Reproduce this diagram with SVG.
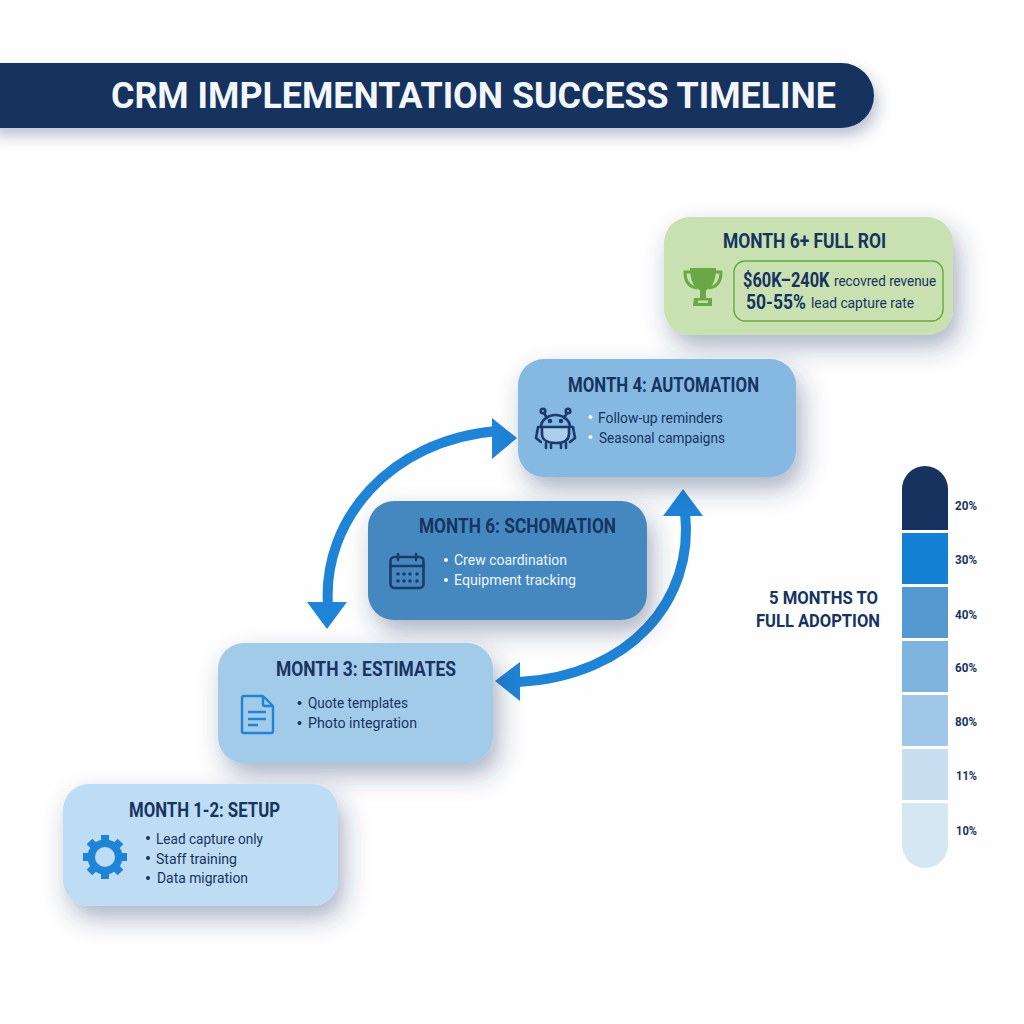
<svg xmlns="http://www.w3.org/2000/svg" width="1024" height="1024" viewBox="0 0 1024 1024">
<defs>
<filter id="sh" x="-20%" y="-25%" width="150%" height="170%"><feDropShadow dx="6" dy="12" stdDeviation="12" flood-color="#27376b" flood-opacity="0.38"/></filter>
<filter id="shb" x="-5%" y="-20%" width="110%" height="170%"><feDropShadow dx="4" dy="8" stdDeviation="7" flood-color="#27376b" flood-opacity="0.3"/></filter>
</defs>
<style>
text{font-family:Roboto,"Liberation Sans",sans-serif;fill:#18335f}
.h{font-size:20px;font-weight:700}
.b{font-size:15px}
.w{fill:#eef5fb}
.s{font-size:12px;font-weight:700}
.ad{font-size:19px;font-weight:700}
.conn{fill:none;stroke:#1f84d6;stroke-width:10}
.arr{fill:#1f84d6}
.ic{fill:none;stroke:#1c3a6b;stroke-width:2.6;stroke-linejoin:round;stroke-linecap:round}
</style>
<rect width="1024" height="1024" fill="#fefefe"/>
<g id="title">
<path d="M-10 63H841.500a32.500 32.500 0 0 1 0 65H-10Z" fill="#17325f" filter="url(#shb)"/>
<text x="111" y="108" font-size="37" font-weight="700" textLength="725" lengthAdjust="spacingAndGlyphs" style="fill:#f4f7fa">CRM IMPLEMENTATION SUCCESS TIMELINE</text>
</g>
<g id="connectors">
<path class="conn" d="M328 606C322 520 390 440 497 431"/>
<polygon class="arr" points="307,602 347,602 327,629"/>
<polygon class="arr" points="492,418 517,438 492,459"/>
<path class="conn" d="M685 512C695 600 630 676 519 682"/>
<polygon class="arr" points="663,516 703,516 683,489"/>
<polygon class="arr" points="520,662 520,701 495,681"/>
</g>
<g id="node-roi">
<rect x="664" y="217" width="289" height="118" rx="26" fill="#c9e0b1" filter="url(#sh)"/>
<text class="h" x="723" y="248" textLength="163" lengthAdjust="spacingAndGlyphs">MONTH 6+ FULL ROI</text>
<rect x="734" y="261" width="209" height="60" rx="11" fill="none" stroke="#69a845" stroke-width="1.400"/>
<g fill="none" stroke="#69a845" stroke-width="3"><path d="M691 272H685C685 282 690 287 697 288M715 272H721C721 282 716 287 709 288"/></g>
<path d="M690 268H716C716 282 711 290 703 291C695 290 690 282 690 268Z" fill="#69a845"/>
<rect x="700" y="290" width="6" height="9" fill="#69a845"/>
<path d="M694 298H712V306H693ZM698 300.500V303H708V300.500Z" fill="#69a845" fill-rule="evenodd"/>
<text transform="translate(743 287) scale(.82 1)" font-size="20" font-weight="700">$60K–240K</text>
<text transform="translate(834 286) scale(.897 1)" font-size="15">recovred revenue</text>
<text x="746" y="309" font-size="20" font-weight="700" textLength="60" lengthAdjust="spacingAndGlyphs">50-55%</text>
<text x="811" y="308" font-size="15" textLength="103" lengthAdjust="spacingAndGlyphs">lead capture rate</text>
</g>
<g id="node-automation">
<rect x="518" y="359" width="278" height="118" rx="26" fill="#85b9e1" filter="url(#sh)"/>
<text class="h" x="568" y="392" textLength="191" lengthAdjust="spacingAndGlyphs">MONTH 4: AUTOMATION</text>
<path d="M542 427V434C542 440 548 443 556 443C564 443 569 440 569 434V427Z" fill="#a9cfeb"/>
<g class="ic"><circle cx="543" cy="411" r="2.300"/><circle cx="568" cy="411" r="2.300"/><path d="M544 413L547 418M567 413L564 418"/><path d="M541 427C541 420 548 415 555.500 415C563 415 570 420 570 427"/><path d="M538 427H573M538 427L536 438L541 442M573 427L575 438L570 442"/><path d="M542 427V434C542 440 548 443 556 443C564 443 569 440 569 434V427M546 443V448M551 443V448M561 443V448M566 443V448"/></g>
<circle cx="550" cy="421" r="2.300" fill="#1c3a6b"/><circle cx="561" cy="421" r="2.300" fill="#1c3a6b"/>
<circle cx="590.500" cy="417" r="2" fill="#f2f7fb"/><circle cx="590.500" cy="437" r="2" fill="#f2f7fb"/>
<text class="b" x="598" y="423" textLength="125" lengthAdjust="spacingAndGlyphs">Follow-up reminders</text>
<text class="b" x="599" y="443" textLength="126" lengthAdjust="spacingAndGlyphs">Seasonal campaigns</text>
</g>
<g id="node-scheduling">
<rect x="368" y="501" width="279" height="119" rx="26" fill="#4588c0" filter="url(#sh)"/>
<text class="h" x="419" y="533" textLength="197" lengthAdjust="spacingAndGlyphs">MONTH 6: SCHOMATION</text>
<g class="ic"><rect x="390.500" y="557" width="33" height="31" rx="4"/><path d="M390.500 566H423.500M398 554V560M416 554V560"/></g>
<g fill="#1c3a6b"><circle cx="398" cy="574" r="1.800"/><circle cx="404" cy="574" r="1.800"/><circle cx="410" cy="574" r="1.800"/><circle cx="417" cy="574" r="1.800"/><circle cx="398" cy="581" r="1.800"/><circle cx="404" cy="581" r="1.800"/><circle cx="410" cy="581" r="1.800"/><circle cx="417" cy="581" r="1.800"/></g>
<circle cx="446" cy="560" r="2" fill="#f2f7fb"/><circle cx="446" cy="580" r="2" fill="#f2f7fb"/>
<text class="b w" x="454" y="565" textLength="113" lengthAdjust="spacingAndGlyphs">Crew coardination</text>
<text class="b w" x="454" y="585" textLength="122" lengthAdjust="spacingAndGlyphs">Equipment tracking</text>
</g>
<g id="node-estimates">
<rect x="218" y="643" width="275" height="120" rx="26" fill="#a2cbea" filter="url(#sh)"/>
<text class="h" x="276" y="676" textLength="180" lengthAdjust="spacingAndGlyphs">MONTH 3: ESTIMATES</text>
<path d="M244 696H263L273 706V731Q273 733 271 733H244Q242 733 242 731V698Q242 696 244 696ZM263 696V704Q263 706 265 706H273M248 712H266M248 719H266M248 725H258" fill="none" stroke="#1f84d6" stroke-width="2.400" stroke-linejoin="round"/>
<circle cx="299.500" cy="703" r="2" fill="#18335f"/><circle cx="299.500" cy="723" r="2" fill="#18335f"/>
<text class="b" x="308" y="708" textLength="100" lengthAdjust="spacingAndGlyphs">Quote templates</text>
<text class="b" x="308" y="728" textLength="109" lengthAdjust="spacingAndGlyphs">Photo integration</text>
</g>
<g id="node-setup">
<rect x="63" y="784" width="275" height="122" rx="26" fill="#bedcf3" filter="url(#sh)"/>
<text class="h" x="129" y="817" textLength="151" lengthAdjust="spacingAndGlyphs">MONTH 1-2: SETUP</text>
<g stroke="#1f84d6" stroke-width="8"><path d="M105 835V879M83 857H127M89.500 841.500L120.500 872.500M89.500 872.500L120.500 841.500"/></g>
<circle cx="105" cy="857" r="17.500" fill="#1f84d6"/>
<circle cx="105" cy="857" r="10" fill="#bedcf3"/>
<circle cx="148" cy="838" r="2" fill="#18335f"/><circle cx="148" cy="858" r="2" fill="#18335f"/><circle cx="148" cy="878" r="2" fill="#18335f"/>
<text class="b" x="156" y="844" textLength="107" lengthAdjust="spacingAndGlyphs">Lead capture only</text>
<text class="b" x="156" y="864" textLength="81" lengthAdjust="spacingAndGlyphs">Staff training</text>
<text class="b" x="157" y="883" textLength="91" lengthAdjust="spacingAndGlyphs">Data migration</text>
</g>
<g id="adoption-scale">
<text class="ad" x="769" y="604" textLength="109" lengthAdjust="spacingAndGlyphs">5 MONTHS TO</text>
<text class="ad" x="756" y="627" textLength="124" lengthAdjust="spacingAndGlyphs">FULL ADOPTION</text>
<path d="M902 530V489a23 23 0 0 1 46 0V530Z" fill="#17325f"/>
<rect x="902" y="533" width="46" height="51" fill="#1480d4"/>
<rect x="902" y="587" width="46" height="51" fill="#5499cf"/>
<rect x="902" y="641" width="46" height="51" fill="#7fb4de"/>
<rect x="902" y="695" width="46" height="51" fill="#a0c7e7"/>
<rect x="902" y="749" width="46" height="51" fill="#c9dff1"/>
<path d="M902 803H948V845a23 23 0 0 1-46 0Z" fill="#d6e7f4"/>
<text class="s" x="955" y="510" textLength="22" lengthAdjust="spacingAndGlyphs">20%</text>
<text class="s" x="955" y="564" textLength="22" lengthAdjust="spacingAndGlyphs">30%</text>
<text class="s" x="955" y="619" textLength="22" lengthAdjust="spacingAndGlyphs">40%</text>
<text class="s" x="955" y="672" textLength="22" lengthAdjust="spacingAndGlyphs">60%</text>
<text class="s" x="955" y="726" textLength="22" lengthAdjust="spacingAndGlyphs">80%</text>
<text class="s" x="956" y="780" textLength="21" lengthAdjust="spacingAndGlyphs">11%</text>
<text class="s" x="956" y="835" textLength="21" lengthAdjust="spacingAndGlyphs">10%</text>
</g>
</svg>
